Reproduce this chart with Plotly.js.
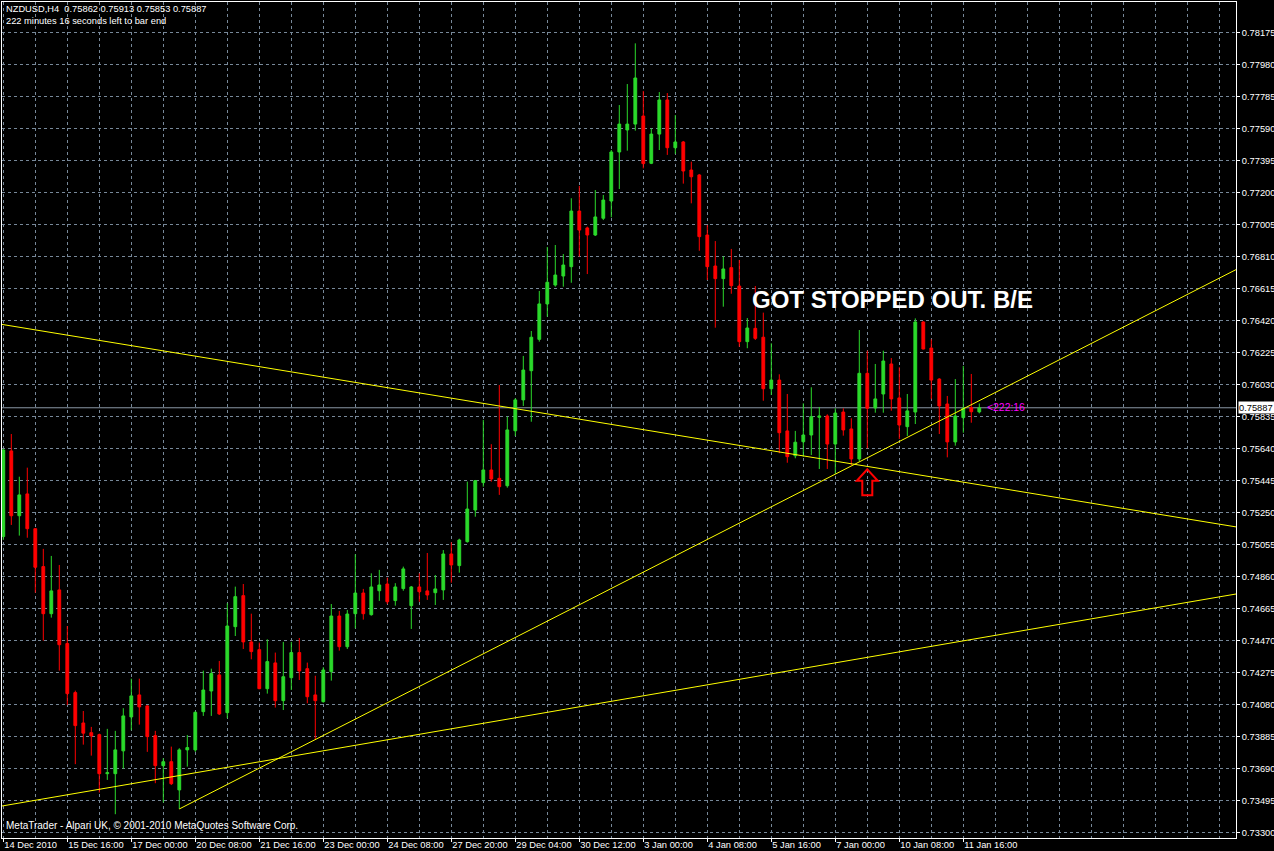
<!DOCTYPE html>
<html><head><meta charset="utf-8">
<script src="https://cdn.plot.ly/plotly-3.0.1.min.js"></script>
<style>html,body{margin:0;padding:0;background:#000;overflow:hidden}#chart{width:1274px;height:851px}</style>
</head><body><div id="chart"></div>
<script>
const symbolLine = 'NZDUSD,H4  0.75862 0.75913 0.75853 0.75887';
const timerLine = '222 minutes 16 seconds left to bar end';
const copyrightLine = 'MetaTrader - Alpari UK, \u00a9 2001-2010 MetaQuotes Software Corp.';
const noteText = 'GOT STOPPED OUT. B/E';
const timerTag = '<222:16';

const opens = [0.75102,0.75624,0.75229,0.75362,0.75150,0.74919,0.74632,0.74777,0.74450,0.74151,
0.73966,0.73907,0.73895,0.73657,0.73657,0.73796,0.74003,0.74137,0.74070,0.73889,
0.73706,0.73730,0.73558,0.73802,0.73802,0.74035,0.74161,0.74259,0.74029,0.74553,
0.74742,0.74460,0.74413,0.74175,0.74332,0.74102,0.74242,0.74395,0.74297,0.74137,
0.74096,0.74279,0.74618,0.74431,0.74632,0.74758,0.74626,0.74772,0.74813,0.74712,
0.74785,0.74681,0.74795,0.74771,0.74760,0.74777,0.74996,0.74925,0.75071,0.75264,
0.75431,0.75508,0.75457,0.75412,0.75747,0.75935,0.76113,0.76304,0.76520,0.76635,
0.76690,0.76747,0.77086,0.76983,0.76940,0.77042,0.77147,0.77446,0.77580,0.77616,
0.77665,0.77377,0.77555,0.77763,0.77472,0.77507,0.77336,0.77306,0.76940,0.76751,
0.76674,0.76741,0.76629,0.76290,0.76371,0.76317,0.76003,0.76056,0.75746,0.75595,
0.75680,0.75721,0.75829,0.75837,0.75666,0.75861,0.75758,0.75575,0.76097,0.75886,
0.75971,0.76154,0.75947,0.75772,0.75861,0.76410,0.76251,0.76062,0.75910,0.75679,
0.75827,0.75888,0.75862];
const highs = [0.75636,0.75727,0.75467,0.75522,0.75150,0.75027,0.74984,0.74929,0.74557,0.74163,
0.74039,0.73942,0.73901,0.73930,0.73918,0.74056,0.74236,0.74236,0.74074,0.73918,
0.73751,0.73822,0.73812,0.73893,0.74036,0.74285,0.74297,0.74344,0.74696,0.74797,
0.74813,0.74632,0.74456,0.74476,0.74395,0.74460,0.74460,0.74484,0.74334,0.74254,
0.74306,0.74691,0.74649,0.74655,0.74994,0.74783,0.74878,0.74899,0.74852,0.74818,
0.74919,0.74801,0.74878,0.75002,0.74868,0.75020,0.75067,0.75089,0.75437,0.75447,
0.75813,0.75665,0.76026,0.75833,0.75945,0.76203,0.76355,0.76599,0.76867,0.76879,
0.76824,0.77164,0.77239,0.76991,0.77214,0.77184,0.77458,0.77732,0.77860,0.78108,
0.77818,0.77590,0.77811,0.77805,0.77671,0.77513,0.77387,0.77312,0.77001,0.76903,
0.76810,0.76855,0.76788,0.76434,0.76629,0.76467,0.76280,0.76091,0.75971,0.75746,
0.75914,0.76012,0.75892,0.75847,0.75884,0.75884,0.75823,0.76361,0.76235,0.76154,
0.76235,0.76190,0.76134,0.75971,0.76432,0.76415,0.76304,0.76067,0.75959,0.76062,
0.76142,0.76093,0.75913];
const lows = [0.75081,0.75173,0.75108,0.75095,0.74760,0.74468,0.74608,0.74285,0.74076,0.73715,
0.73834,0.73767,0.73542,0.73619,0.73410,0.73688,0.73922,0.73956,0.73790,0.73599,
0.73481,0.73588,0.73442,0.73700,0.73790,0.74009,0.74009,0.74015,0.73995,0.74496,
0.74417,0.74354,0.74172,0.74145,0.74060,0.74045,0.74167,0.74228,0.74086,0.73867,
0.74090,0.74224,0.74407,0.74417,0.74543,0.74596,0.74620,0.74710,0.74691,0.74681,
0.74772,0.74539,0.74705,0.74716,0.74685,0.74716,0.74821,0.74882,0.75065,0.75223,
0.75406,0.75437,0.75356,0.75400,0.75715,0.75898,0.75802,0.76290,0.76442,0.76625,
0.76625,0.76649,0.76808,0.76702,0.76934,0.77031,0.77048,0.77220,0.77454,0.77576,
0.77346,0.77372,0.77458,0.77428,0.77434,0.77253,0.77133,0.76844,0.76666,0.76375,
0.76503,0.76582,0.76259,0.76250,0.76300,0.75930,0.75965,0.75610,0.75552,0.75579,
0.75589,0.75599,0.75514,0.75514,0.75484,0.75717,0.75538,0.75559,0.75640,0.75857,
0.75857,0.75869,0.75697,0.75715,0.75788,0.76243,0.75939,0.75727,0.75585,0.75656,
0.75735,0.75796,0.75853];
const closes = [0.75630,0.75229,0.75356,0.75150,0.74915,0.74632,0.74771,0.74443,0.74145,0.73950,
0.73904,0.73887,0.73657,0.73663,0.73802,0.74009,0.74131,0.74064,0.73883,0.73706,
0.73730,0.73596,0.73802,0.73816,0.74031,0.74167,0.74267,0.74021,0.74557,0.74736,
0.74460,0.74401,0.74175,0.74340,0.74102,0.74248,0.74395,0.74283,0.74126,0.74102,
0.74289,0.74618,0.74431,0.74630,0.74758,0.74632,0.74795,0.74807,0.74705,0.74795,
0.74905,0.74795,0.74766,0.74746,0.74783,0.74996,0.74929,0.75081,0.75270,0.75443,
0.75508,0.75453,0.75406,0.75752,0.75935,0.76117,0.76317,0.76520,0.76652,0.76696,
0.76757,0.77086,0.76970,0.76940,0.77050,0.77153,0.77446,0.77616,0.77616,0.77897,
0.77375,0.77555,0.77763,0.77472,0.77507,0.77330,0.77295,0.76930,0.76747,0.76674,
0.76733,0.76631,0.76290,0.76373,0.76310,0.76003,0.76056,0.75735,0.75589,0.75677,
0.75721,0.75833,0.75837,0.75666,0.75855,0.75752,0.75575,0.76097,0.75884,0.75941,
0.76172,0.75941,0.75782,0.75868,0.76410,0.76245,0.76056,0.75898,0.75679,0.75837,
0.75884,0.75863,0.75887];

const dateLabels = ['14 Dec 2010','15 Dec 16:00','17 Dec 00:00','20 Dec 08:00','21 Dec 16:00',
'23 Dec 00:00','24 Dec 08:00','27 Dec 20:00','29 Dec 04:00','30 Dec 12:00','3 Jan 00:00',
'4 Jan 08:00','5 Jan 16:00','7 Jan 00:00','10 Jan 08:00','11 Jan 16:00'];
const barsPerLabel = 8;

// trend lines (bar index, price)
const trendDownX = [-0.1625, 154.09];
const trendDownY = [0.76395, 0.75161];
const trendUpX = [22, 154.09];
const trendUpY = [0.73442, 0.76729];
const trendLowX = [-0.1625, 154.09];
const trendLowY = [0.73460, 0.74752];

const currentPrice = 0.75887;
const arrowBar = 108;
const arrowPrice = 0.75512;
const noteBar = 111.1;
const notePrice = 0.76544;

// ---------- layout ----------
const W = 1274, H = 851;
const M = {l: 2, r: 38, t: 2, b: 13};
const xRange = [-0.1625, 154.0875];
const yRange = [0.73265, 0.78360];
const plotW = W - M.l - M.r, plotH = H - M.t - M.b;
const pxX = (xRange[1] - xRange[0]) / plotW;
const pxY = (yRange[1] - yRange[0]) / plotH;

const font = '"Liberation Sans", Arial, sans-serif';
const fs = 9.3;
const green = '#2bd92b', red = '#ff0000', grid = '#778899';

const idx = closes.map((_, i) => i);

const traces = [
  {type: 'candlestick', x: idx, open: opens, high: highs, low: lows, close: closes,
   increasing: {line: {color: green, width: 1}, fillcolor: green},
   decreasing: {line: {color: red, width: 1}, fillcolor: red},
   whiskerwidth: 0, hoverinfo: 'skip', showlegend: false},
  {type: 'scatter', mode: 'lines', x: trendDownX, y: trendDownY, line: {color: '#ffff00', width: 1}, hoverinfo: 'skip', showlegend: false},
  {type: 'scatter', mode: 'lines', x: trendUpX, y: trendUpY, line: {color: '#ffff00', width: 1}, hoverinfo: 'skip', showlegend: false},
  {type: 'scatter', mode: 'lines', x: trendLowX, y: trendLowY, line: {color: '#ffff00', width: 1}, hoverinfo: 'skip', showlegend: false}
];

// arrow outline (offsets in pixels from tip, down positive)
const arrowPts = [[0,0],[10.5,11.5],[5,11.5],[5,26],[-5,26],[-5,11.5],[-10.5,11.5]];
const arrowPath = arrowPts.map((p, i) => (i ? 'L' : 'M') + (arrowBar + p[0]*pxX) + ',' + (arrowPrice - p[1]*pxY)).join(' ') + ' Z';

const layout = {
  width: W, height: H,
  margin: M,
  paper_bgcolor: '#000', plot_bgcolor: '#000',
  showlegend: false,
  boxgap: 0.5,
  font: {family: font, size: fs, color: '#fff'},
  xaxis: {
    type: 'linear', range: xRange, fixedrange: true,
    rangeslider: {visible: false},
    tickmode: 'array', tickvals: dateLabels.map((_, i) => i * barsPerLabel), ticktext: dateLabels,
    ticks: 'outside', ticklen: 3, tickcolor: '#fff', tickwidth: 1, tickangle: 0,
    ticklabelposition: 'outside right', ticklabelstandoff: -2,
    tickfont: {family: font, size: fs, color: '#fff'},
    showgrid: true, gridcolor: grid, griddash: '3px,3px', gridwidth: 1,
    minor: {tickmode: 'linear', tick0: 0, dtick: 4, showgrid: true, gridcolor: grid, griddash: '3px,3px', gridwidth: 1, ticks: ''},
    showline: true, linecolor: '#fff', linewidth: 1, mirror: true, zeroline: false
  },
  yaxis: {
    range: yRange, fixedrange: true, side: 'right',
    tickmode: 'linear', tick0: 0.733, dtick: 0.00195, tickformat: '.5f',
    ticks: 'outside', ticklen: 3, tickcolor: '#fff',
    tickfont: {family: font, size: fs, color: '#fff'},
    showgrid: true, gridcolor: grid, griddash: '3px,3px', gridwidth: 1,
    showline: true, linecolor: '#fff', linewidth: 1, mirror: true, zeroline: false
  },
  shapes: [
    {type: 'line', xref: 'paper', x0: 0, x1: 1, yref: 'y', y0: currentPrice, y1: currentPrice,
     line: {color: '#8a98a6', width: 1}, layer: 'below'},
    {type: 'path', xref: 'x', yref: 'y', path: arrowPath, line: {color: red, width: 2}, fillcolor: 'rgba(0,0,0,0)'}
  ],
  annotations: [
    {xref: 'paper', yref: 'paper', x: 0, y: 1, xanchor: 'left', yanchor: 'top', xshift: 2, yshift: 0,
     text: symbolLine.replace(/  /g, '&nbsp; '), showarrow: false, font: {family: font, size: fs, color: '#fff'}},
    {xref: 'paper', yref: 'paper', x: 0, y: 1, xanchor: 'left', yanchor: 'top', xshift: 2, yshift: -12,
     text: timerLine, showarrow: false, font: {family: font, size: fs, color: '#fff'}},
    {xref: 'paper', yref: 'paper', x: 0, y: 0, xanchor: 'left', yanchor: 'bottom', xshift: 2, yshift: 5,
     text: copyrightLine, showarrow: false, font: {family: font, size: 10, color: '#fff'}},
    {xref: 'x', yref: 'y', x: noteBar, y: notePrice, xanchor: 'center', yanchor: 'middle',
     text: '<b>' + noteText + '</b>', showarrow: false, font: {family: '"Liberation Sans", Arial, sans-serif', size: 24, color: '#fff'}},
    {xref: 'x', yref: 'y', x: closes.length - 0.3, y: currentPrice, xanchor: 'left', yanchor: 'middle',
     text: timerTag.replace('<', '&lt;'), showarrow: false, font: {family: font, size: 10.4, color: '#ff00ff'}},
    {xref: 'paper', yref: 'y', x: 1, y: currentPrice, xanchor: 'left', yanchor: 'middle', xshift: 2,
     text: currentPrice.toFixed(5), showarrow: false, bgcolor: '#fff', borderpad: 0, width: 36, height: 11, align: 'left',
     font: {family: font, size: fs, color: '#000'}}
  ]
};

Plotly.newPlot('chart', traces, layout, {displayModeBar: false, staticPlot: true});
</script>
</body></html>
